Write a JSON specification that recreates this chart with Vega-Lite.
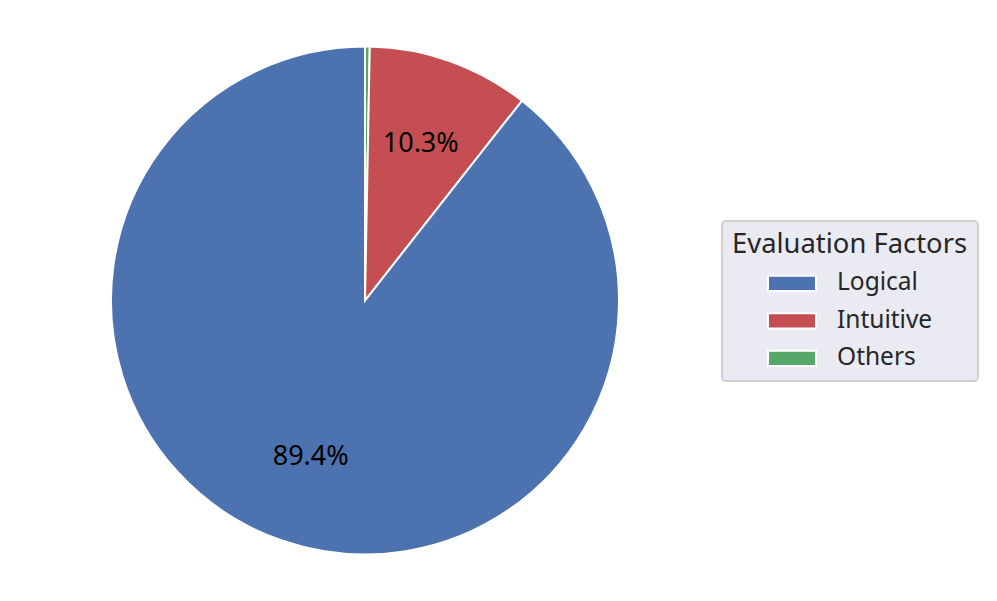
{
  "$schema": "https://vega.github.io/schema/vega-lite/v6.json",
  "width": 730,
  "height": 601,
  "padding": 0,
  "autosize": {"type": "pad"},
  "background": "white",
  "config": {"view": {"stroke": null}, "font": "Noto Sans"},
  "data": {
    "values": [
      {"factor": "Others", "value": 0.3, "label": "", "ord": 1},
      {"factor": "Intuitive", "value": 10.3, "label": "10.3%", "ord": 2},
      {"factor": "Logical", "value": 89.4, "label": "89.4%", "ord": 3}
    ]
  },
  "encoding": {
    "theta": {"field": "value", "type": "quantitative", "stack": true},
    "order": {"field": "ord", "type": "quantitative"}
  },
  "layer": [
    {
      "mark": {"type": "arc", "outerRadius": 254, "stroke": "white", "strokeWidth": 2},
      "encoding": {
        "color": {
          "field": "factor",
          "type": "nominal",
          "scale": {"domain": ["Logical", "Intuitive", "Others"], "range": ["#4C72B0", "#C44E52", "#55A868"]},
          "legend": {
            "title": "Evaluation Factors",
            "orient": "none",
            "legendX": 722,
            "legendY": 221,
            "padding": 10,
            "fillColor": "#EAEAF2",
            "strokeColor": "#D0D0D0",
            "cornerRadius": 4,
            "titleFontSize": 27.4,
            "titleFontWeight": "normal",
            "titleColor": "#262626",
            "titleFont": "Noto Sans",
            "titleLimit": 500,
            "titlePadding": 0,
            "labelFontSize": 24.5,
            "labelColor": "#262626",
            "labelFont": "Noto Sans",
            "labelOffset": 20,
            "symbolType": "M-1,-0.32H1V0.32H-1Z",
            "symbolSize": 2304,
            "symbolStrokeColor": "white",
            "symbolStrokeWidth": 2,
            "symbolOpacity": 1,
            "symbolOffset": 35,
            "rowPadding": 0.5,
            "encode": {"legend": {"update": {"strokeWidth": {"value": 2}}}}
          }
        }
      }
    },
    {
      "mark": {"type": "text", "radius": 166, "fontSize": 27, "color": "black", "font": "Noto Sans", "baseline": "middle", "align": "center"},
      "encoding": {"text": {"field": "label"}}
    }
  ]
}
